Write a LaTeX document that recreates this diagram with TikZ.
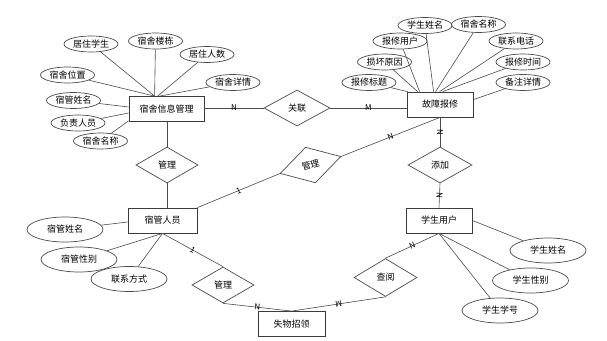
\documentclass[tikz,border=0pt]{standalone}
\usepackage{fontspec}
\setmainfont{Noto Sans CJK SC}
\usetikzlibrary{shapes.geometric,calc}
\definecolor{linec}{HTML}{4A4A4A}
\definecolor{boxc}{HTML}{3C3C3C}
\begin{document}
\begin{tikzpicture}[x=1pt,y=-1pt,
  txt/.style={font=\fontsize{9}{10}\selectfont, text=black},
  ent/.style={txt, draw=boxc, line width=0.8pt, rectangle, inner sep=0pt, minimum width=#1, minimum height=25pt},
  rel/.style={txt, draw=linec, line width=0.7pt, diamond, inner sep=0pt, minimum width=62pt, minimum height=36pt},
  att/.style={txt, draw=linec, line width=0.7pt, ellipse, inner sep=0pt, minimum width=54pt, minimum height=16pt},
  attb/.style={txt, draw=linec, line width=0.7pt, ellipse, inner sep=0pt, minimum width=76pt, minimum height=25pt},
  con/.style={draw=linec, line width=0.6pt},
  card/.style={font=\fontsize{8}{9}\selectfont, inner sep=0pt, midway, sloped, text=black}]
\useasboundingbox (0,0) rectangle (607,340);

% entities
\node[ent=75pt] (e1) at (166.5,109) {宿舍信息管理};
\node[ent=66pt] (e2) at (440,104.5) {故障报修};
\node[ent=69pt] (e3) at (162.5,220.5) {宿管人员};
\node[ent=66pt] (e4) at (439,220.5) {学生用户};
\node[ent=67pt] (e5) at (291.5,324) {失物招领};

% relationships
\node[rel, minimum width=66pt] (r1) at (297,108) {关联};
\node[rel] (r2) at (167,165) {管理};
\node[rel, minimum width=63pt, minimum height=37pt, rotate=15.6] (r3) at (310.5,165) {管理};
\node[rel, minimum width=64pt] (r4) at (440,165) {添加};
\node[rel] (r5) at (223,285) {管理};
\node[rel, minimum width=63pt, minimum height=38pt] (r6) at (385.5,277.5) {查阅};

% attributes of e1
\node[att] (a1) at (91,44) {居住学生};
\node[att] (a2) at (155.5,41) {宿舍楼栋};
\node[att] (a3) at (207,54.5) {居住人数};
\node[att] (a4) at (233,82.5) {宿舍详情};
\node[att] (a5) at (67.5,75) {宿舍位置};
\node[att] (a6) at (73.5,100.5) {宿管姓名};
\node[att] (a7) at (78,123) {负责人员};
\node[att] (a8) at (100.5,141) {宿舍名称};

% attributes of e2
\node[att] (b1) at (425,25.5) {学生姓名};
\node[att] (b2) at (478.5,24.5) {宿舍名称};
\node[att] (b3) at (400,41) {报修用户};
\node[att] (b4) at (516,41) {联系电话};
\node[att] (b5) at (384.5,62) {损坏原因};
\node[att] (b6) at (523,62) {报修时间};
\node[att] (b7) at (369,82.5) {报修标题};
\node[att] (b8) at (523,82.5) {备注详情};

% attributes of e3
\node[attb] (c1) at (65,229.5) {宿管姓名};
\node[attb] (c2) at (79,259.5) {宿管性别};
\node[attb] (c3) at (129,279) {联系方式};

% attributes of e4
\node[attb] (d1) at (548,250.5) {学生姓名};
\node[attb] (d2) at (530.5,280.5) {学生性别};
\node[attb] (d3) at (500,310.5) {学生学号};

% anchor points
\coordinate (e1t) at ($(e1.north west)+(26,0)$);
\coordinate (e1t2) at ($(e1.north west)+(29,0)$);
\coordinate (e1t3) at ($(e1.north west)+(31,0)$);
\coordinate (e2t1) at ($(e2.north west)+(27,0)$);
\coordinate (e2t2) at ($(e2.north west)+(29,0)$);
\coordinate (e2t3) at ($(e2.north west)+(13,0)$);
\coordinate (e2t4) at ($(e2.north west)+(11,0)$);
\coordinate (e2t5) at ($(e2.north west)+(1,0)$);
\coordinate (e2t6) at ($(e2.north west)+(33,0)$);
\coordinate (e2t7) at ($(e2.north west)+(36,0)$);
\coordinate (e2r) at ($(e2.north east)+(0,8)$);

% attribute connectors e1
\draw[con] (a1) -- (e1t);
\draw[con] (a2) -- (e1t);
\draw[con] (a3) -- (e1t2);
\draw[con] (a4) -- (e1t3);
\draw[con] (a5) -- (e1t);
\draw[con] (a6) -- ($(e1.west)+(0,-2)$);
\draw[con] (a7) -- ($(e1.west)+(0,4)$);
\draw[con] (a8) -- ($(e1.south west)+(0,-1)$);

% attribute connectors e2
\draw[con] (b1) -- (e2t1);
\draw[con] (b2) -- (e2t2);
\draw[con] (b3) -- (e2t3);
\draw[con] (b4) -- (e2t6);
\draw[con] (b5) -- (e2t4);
\draw[con] (b6) -- (e2t7);
\draw[con] (b7) -- (e2t5);
\draw[con] (b8) -- (e2r);

% attribute connectors e3, e4
\draw[con] (c1) -- ($(e3.west)+(0,1.5)$);
\draw[con] (c2) -- (e3.south);
\draw[con] (c3) -- (e3.south);
\draw[con] (d1) -- (e4.east);
\draw[con] (d2) -- (e4.south);
\draw[con] (d3) -- (e4.south);

% relationship connectors
\draw[con] (e1.east |- r1.west) -- node[card, sloped=false] {N} (r1.west);
\draw[con] (r1.east) -- node[card, sloped=false] {M} (r1.east -| e2.west);
\draw[con] (e1.south -| r2.north) -- (r2.north);
\draw[con] (r2.south) -- (r2.south |- e3.north);
\draw[con] (e3.north east) -- node[card] {1} (r3.west);
\draw[con] (r3.east) -- node[card] {N} (e2.south);
\draw[con] (e2.south) -- node[card] {N} (r4.north);
\draw[con] (r4.south) -- node[card] {N} (e4.north);
\draw[con] (e3.south) -- node[card] {1} (r5.north);
\draw[con] (r5.south) -- node[card] {N} (e5.north);
\draw[con] (e5.north) -- node[card, rotate=180] {M} (r6.south);
\draw[con] (r6.north) -- node[card] {N} (e4.south);
\end{tikzpicture}
\end{document}
